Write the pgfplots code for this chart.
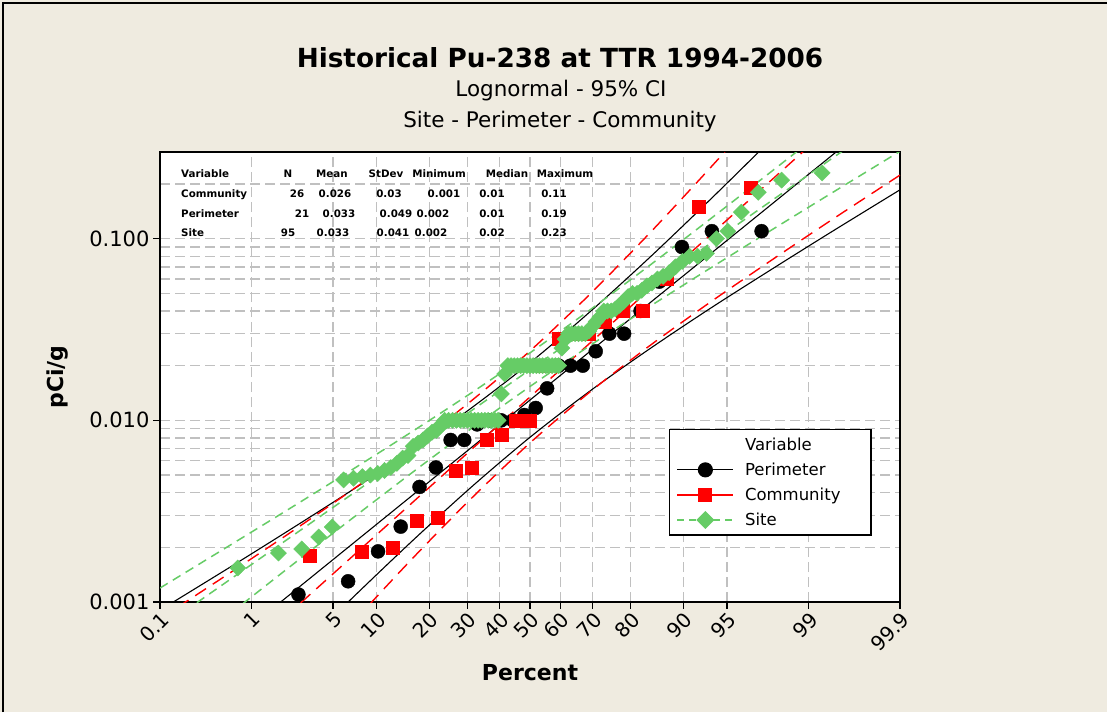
\documentclass[border=0pt]{standalone}
\usepackage{pgfplots}
\pgfplotsset{compat=1.18}
\usepackage{fontspec}
\setmainfont{DejaVu Sans}
\definecolor{bgc}{RGB}{239,235,224}
\definecolor{gridc}{RGB}{192,192,192}
\definecolor{mred}{RGB}{255,0,0}
\definecolor{mgreen}{RGB}{102,204,102}
\begin{document}
\begin{tikzpicture}[x=1pt,y=1pt]
\useasboundingbox (0,0) rectangle (1107,-712);
\fill[bgc] (0,0) rectangle (1107,-712);
\draw[line width=1.2pt] (3,-712) -- (3,-3) -- (1107,-3);
\node[font=\fontsize{26.3}{30}\selectfont\bfseries] at (560,-58) {Historical Pu-238 at TTR 1994-2006};
\node[font=\fontsize{21.5}{25}\selectfont] at (561,-91) {Lognormal - 95\% CI};
\node[font=\fontsize{21.5}{25}\selectfont] at (560,-122) {Site - Perimeter - Community};
\begin{axis}[
  at={(160pt,-602pt)}, anchor=south west,
  width=740pt, height=450pt, scale only axis,
  xmin=-3.0902, xmax=3.0902,
  ymode=log, ymin=0.001, ymax=0.3,
  axis background/.style={fill=white},
  axis line style={line width=1.6pt},
  tick style={line width=1.2pt, black},
  xtick pos=left, ytick pos=left,
  tick align=outside, major tick length=7pt, minor tick length=0pt,
  xtick={-3.0902,-2.3263,-1.6449,-1.2816,-0.8416,-0.5244,-0.2533,0,0.2533,0.5244,0.8416,1.2816,1.6449,2.3263,3.0902},
  xticklabels={0.1,1,5,10,20,30,40,50,60,70,80,90,95,99,99.9},
  xticklabel style={rotate=45, anchor=north east, font=\fontsize{20}{24}\selectfont, inner sep=1pt},
  ytick={0.001,0.01,0.1},
  yticklabels={0.001,0.010,0.100},
  minor ytick={0.002,0.003,0.004,0.005,0.006,0.007,0.008,0.009,0.02,0.03,0.04,0.05,0.06,0.07,0.08,0.09,0.2,0.3},
  yticklabel style={font=\fontsize{21}{25}\selectfont},
  xmajorgrids, ymajorgrids, yminorgrids,
  major grid style={gridc, line width=1.4pt, dash pattern=on 10pt off 5pt},
  minor grid style={gridc, line width=1.4pt, dash pattern=on 10pt off 5pt},
  xlabel={Percent}, ylabel={pCi/g},
  xlabel style={at={(axis description cs:0.5,-0.158)}, anchor=center, font=\fontsize{22}{26}\selectfont\bfseries},
  ylabel style={at={(axis description cs:-0.138,0.5)}, anchor=center, font=\fontsize{22}{26}\selectfont\bfseries},
  legend image code/.code={\draw[mark repeat=2,mark phase=2,#1] plot coordinates {(0pt,0pt) (28pt,0pt) (56pt,0pt)};},
  legend style={at={(0.688,0.384)}, anchor=north west, draw=black, line width=1.2pt, fill=white,
    font=\fontsize{16.5}{20}\selectfont, row sep=7pt, column sep=9pt, inner xsep=7pt, inner ysep=6pt,
    nodes={text width=117pt}},
  legend cell align=left,
]
% ---- Perimeter (black) fit and 95% CI ----
\addplot[black, line width=1.1pt, smooth, forget plot] coordinates {(-3.09,9.31e-5) (-2.5,2.29e-4) (-2,4.88e-4) (-1.5,1.028e-3) (-1,2.118e-3) (-0.5,4.236e-3) (0,8.07e-3) (0.5,0.01449) (1,0.02477) (1.5,0.04111) (2,0.06668) (2.5,0.1072) (3.09,0.1858)};
\addplot[black, line width=1.1pt, forget plot] coordinates {(-3.09,2.897e-4) (3.09,0.578)};
\addplot[black, line width=1.1pt, smooth, forget plot] coordinates {(-3.09,9.02e-4) (-2.5,1.563e-3) (-2,2.512e-3) (-1.5,4.074e-3) (-1,6.745e-3) (-0.5,0.01156) (0,0.02075) (0.5,0.03954) (1,0.07889) (1.5,0.1629) (2,0.3436) (2.5,0.7311) (3.09,1.799)};
% ---- Community (red) ----
\addplot[mred, line width=1.4pt, dash pattern=on 13pt off 8pt, smooth, forget plot] coordinates {(-3.09,4.92e-5) (-2.5,1.365e-4) (-2,3.206e-4) (-1.5,7.447e-4) (-1,1.687e-3) (-0.5,3.664e-3) (0,7.516e-3) (0.5,0.01432) (1,0.02576) (1.5,0.04446) (2,0.07482) (2.5,0.1245) (3.09,0.2239)};
\addplot[mred, line width=1.4pt, dash pattern=on 13pt off 8pt, forget plot] coordinates {(-3.09,1.995e-4) (3.09,0.9078)};
\addplot[mred, line width=1.4pt, dash pattern=on 13pt off 8pt, smooth, forget plot] coordinates {(-3.09,8.091e-4) (-2.5,1.455e-3) (-2,2.415e-3) (-1.5,4.074e-3) (-1,7.031e-3) (-0.5,0.01265) (0,0.02410) (0.5,0.04943) (1,0.1074) (1.5,0.2432) (2,0.5636) (2.5,1.327) (3.09,3.681)};
% ---- Site (green) ----
\addplot[mgreen, line width=1.5pt, dash pattern=on 9pt off 6pt, smooth, forget plot] coordinates {(-3.09,4.285e-4) (-2.5,8.670e-4) (-2,1.574e-3) (-1.5,2.835e-3) (-1,5.065e-3) (-0.5,8.918e-3) (0,0.01536) (0.5,0.02578) (1,0.04233) (1.5,0.06846) (2,0.1098) (2.5,0.1751) (3.09,0.3027)};
\addplot[mgreen, line width=1.5pt, dash pattern=on 9pt off 6pt, forget plot] coordinates {(-3.09,7.152e-4) (3.09,0.5052)};
\addplot[mgreen, line width=1.5pt, dash pattern=on 9pt off 6pt, smooth, forget plot] coordinates {(-3.09,1.194e-3) (-2.5,2.064e-3) (-2,3.291e-3) (-1.5,5.278e-3) (-1,8.542e-3) (-0.5,0.01402) (0,0.02353) (0.5,0.04052) (1,0.07134) (1.5,0.1275) (2,0.2298) (2.5,0.4165) (3.09,0.8433)};
% ---- data points ----
\addplot[only marks, mark=*, mark size=7pt, black, forget plot] coordinates {
(-1.934,0.0011) (-1.519,0.0013) (-1.269,0.0019) (-1.080,0.0026) (-0.923,0.0043) (-0.786,0.0055)
(-0.663,0.0078) (-0.549,0.0078) (-0.441,0.0095) (-0.338,0.0100) (-0.240,0.0100) (-0.143,0.0100)
(-0.0475,0.0107) (0.0475,0.0117) (0.143,0.015) (0.240,0.020) (0.338,0.020) (0.441,0.020)
(0.549,0.024) (0.663,0.030) (0.786,0.030) (0.923,0.040) (1.080,0.058) (1.269,0.090) (1.519,0.110) (1.934,0.110)};
\addplot[only marks, mark=square*, mark size=6.5pt, mred, forget plot] coordinates {
(-1.843,0.0018) (-1.409,0.0019) (-1.145,0.0020) (-0.943,0.0028) (-0.774,0.0029) (-0.624,0.0053)
(-0.487,0.0055) (-0.359,0.0078) (-0.236,0.0083) (-0.117,0.0100) (0,0.0100) (0.117,0.020)
(0.236,0.028) (0.359,0.030) (0.487,0.030) (0.624,0.035) (0.774,0.040) (0.943,0.040)
(1.145,0.060) (1.409,0.150) (1.843,0.190)};
\addplot[only marks, mark=square*, mark size=5.7pt, mark options={rotate=45}, mgreen, forget plot] coordinates {
(-2.440,0.00154) (-2.101,0.00186) (-1.907,0.00196) (-1.765,0.00228) (-1.652,0.00259)
(-1.557,0.0047) (-1.474,0.0048) (-1.400,0.0049) (-1.333,0.0050) (-1.272,0.0051)
(-1.215,0.0053) (-1.162,0.0055) (-1.112,0.0058) (-1.064,0.0062) (-1.019,0.0064)
(-0.976,0.0072) (-0.934,0.0075) (-0.894,0.0078) (-0.856,0.0082) (-0.819,0.0086)
(-0.782,0.0088) (-0.747,0.0094) (-0.713,0.010) (-0.679,0.010) (-0.647,0.010)
(-0.615,0.010) (-0.583,0.010) (-0.552,0.010) (-0.522,0.010) (-0.492,0.010)
(-0.463,0.010) (-0.433,0.010) (-0.405,0.010) (-0.377,0.010) (-0.349,0.010)
(-0.321,0.010) (-0.293,0.010) (-0.266,0.010) (-0.239,0.014) (-0.212,0.018)
(-0.185,0.020) (-0.158,0.020) (-0.132,0.020) (-0.105,0.020) (-0.079,0.020)
(-0.053,0.020) (-0.026,0.020) (0,0.020) (0.026,0.020) (0.053,0.020)
(0.079,0.020) (0.105,0.020) (0.132,0.020) (0.158,0.020) (0.185,0.020)
(0.212,0.020) (0.239,0.020) (0.266,0.025) (0.293,0.028) (0.321,0.030)
(0.349,0.030) (0.377,0.030) (0.405,0.030) (0.433,0.030) (0.463,0.030)
(0.492,0.031) (0.522,0.033) (0.552,0.035) (0.583,0.037) (0.615,0.040)
(0.647,0.040) (0.679,0.040) (0.713,0.041) (0.747,0.043) (0.782,0.045)
(0.819,0.048) (0.856,0.050) (0.894,0.050) (0.934,0.052) (0.976,0.055)
(1.019,0.057) (1.064,0.060) (1.112,0.062) (1.162,0.065) (1.215,0.070)
(1.272,0.075) (1.333,0.080) (1.400,0.080) (1.474,0.083) (1.557,0.100)
(1.652,0.110) (1.765,0.140) (1.907,0.180) (2.101,0.210) (2.440,0.230)};
% ---- legend ----
\addlegendimage{empty legend}
\addlegendentry{Variable}
\addlegendimage{black, line width=1.1pt, mark=*, mark size=7pt}
\addlegendentry{Perimeter}
\addlegendimage{mred, line width=1.2pt, mark=square*, mark size=6.5pt}
\addlegendentry{Community}
\addlegendimage{mgreen, line width=1.3pt, dash pattern=on 7pt off 5pt, mark=square*, mark size=5.7pt, mark options={solid, rotate=45}}
\addlegendentry{Site}
\end{axis}
% ---- statistics table ----
\begin{scope}[every node/.style={font=\fontsize{10.3}{12}\selectfont\bfseries, inner sep=0pt, anchor=base}]
\node[anchor=base west] at (181,-177) {Variable};
\node at (288,-177) {N};
\node at (332,-177) {Mean};
\node at (386,-177) {StDev};
\node at (439,-177) {Minimum};
\node at (507,-177) {Median};
\node at (565,-177) {Maximum};
\node[anchor=base west] at (181,-197) {Community};
\node at (297,-197) {26};
\node at (335,-197) {0.026};
\node at (389,-197) {0.03};
\node at (444,-197) {0.001};
\node at (492,-197) {0.01};
\node at (554,-197) {0.11};
\node[anchor=base west] at (181,-217) {Perimeter};
\node at (302,-217) {21};
\node at (339,-217) {0.033};
\node at (396,-217) {0.049};
\node at (433,-217) {0.002};
\node at (492,-217) {0.01};
\node at (554,-217) {0.19};
\node[anchor=base west] at (181,-236) {Site};
\node at (288,-236) {95};
\node at (333,-236) {0.033};
\node at (393,-236) {0.041};
\node at (431,-236) {0.002};
\node at (492,-236) {0.02};
\node at (554,-236) {0.23};
\end{scope}
\end{tikzpicture}
\end{document}
